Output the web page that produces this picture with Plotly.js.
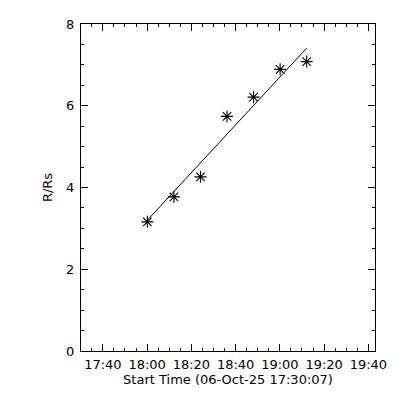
<!DOCTYPE html>
<html>
<head>
<meta charset="utf-8">
<script src="https://cdn.plot.ly/plotly-3.0.1.min.js"></script>
<style>html,body{margin:0;padding:0;background:#fff;}#chart{width:400px;height:400px;}</style>
</head>
<body>
<div id="chart"></div>
<script>
const day = '2025-10-06 ';
const times = ['18:00:07', '18:12:07', '18:24:07', '18:36:07', '18:48:07', '19:00:07', '19:12:07'];
const heights = [3.16, 3.77, 4.26, 5.74, 6.21, 6.89, 7.08];
const fitTimes = ['18:00:07', '19:12:07'];
const fitHeights = [3.20, 7.41];
const xTitle = 'Start Time (06-Oct-25 17:30:07)';
const yTitle = 'R/Rs';
const xRange = ['17:30:07', '19:43:00'];

const font = {family: 'DejaVu Sans', size: 13, color: '#000'};

const traces = [
  {
    x: times.map(t => day + t), y: heights, type: 'scatter', mode: 'markers',
    marker: {symbol: 'asterisk-open', size: 10, color: '#000', line: {color: '#000', width: 1.1}},
    showlegend: false, hoverinfo: 'skip'
  },
  {
    x: fitTimes.map(t => day + t), y: fitHeights, type: 'scatter', mode: 'lines',
    line: {color: '#000', width: 1},
    showlegend: false, hoverinfo: 'skip'
  }
];

const layout = {
  width: 400, height: 400,
  margin: {l: 81, r: 25, t: 24, b: 49},
  paper_bgcolor: '#fff', plot_bgcolor: '#fff',
  font: font,
  xaxis: {
    type: 'date',
    range: xRange.map(t => day + t),
    tick0: day + '17:40:00', dtick: 1200000, tickformat: '%H:%M',
    ticks: 'inside', ticklen: 7, tickwidth: 1, tickcolor: '#000',
    minor: {dtick: 300000, ticks: 'inside', ticklen: 3, tickwidth: 1, tickcolor: '#000', showgrid: false},
    showline: true, linecolor: '#000', linewidth: 1, mirror: 'allticks',
    showgrid: false, zeroline: false,
    tickfont: font, ticklabelstandoff: 1,
    title: {text: xTitle, font: font, standoff: 3}
  },
  yaxis: {
    range: [0, 8], dtick: 2, tick0: 0,
    ticks: 'inside', ticklen: 7, tickwidth: 1, tickcolor: '#000',
    minor: {dtick: 0.5, ticks: 'inside', ticklen: 3, tickwidth: 1, tickcolor: '#000', showgrid: false},
    showline: true, linecolor: '#000', linewidth: 1, mirror: 'allticks',
    showgrid: false, zeroline: false,
    tickfont: font, ticklabelstandoff: 3,
    title: {text: yTitle, font: font, standoff: 10}
  }
};

Plotly.newPlot('chart', traces, layout, {staticPlot: true, displayModeBar: false});
</script>
</body>
</html>
